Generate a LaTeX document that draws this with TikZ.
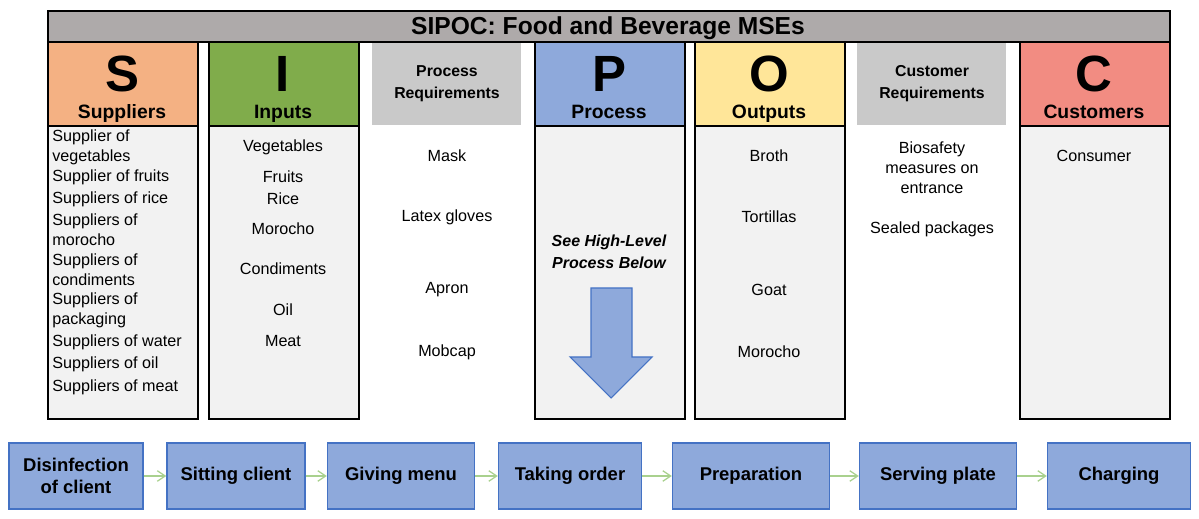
\documentclass[tikz,border=0pt]{standalone}
\usepackage{fontspec}
\setmainfont{Liberation Sans}
\usetikzlibrary{arrows.meta}

\definecolor{titlegray}{HTML}{AEAAAA}
\definecolor{supcol}{HTML}{F4B183}
\definecolor{inpcol}{HTML}{80AC4B}
\definecolor{proccol}{HTML}{8EA9DB}
\definecolor{outcol}{HTML}{FFE699}
\definecolor{custcol}{HTML}{F28C82}
\definecolor{reqgray}{HTML}{C9C9C9}
\definecolor{cellgray}{HTML}{F2F2F2}
\definecolor{stepedge}{HTML}{4472C4}
\definecolor{flowgreen}{HTML}{A9D18E}

\begin{document}
\begin{tikzpicture}[x=0.02cm,y=-0.02cm,
  frame/.style={draw=black,line width=1.2pt},
  hdrbox/.style={frame,anchor=north west,inner sep=0,minimum width=3cm,minimum height=1.68cm},
  cellbox/.style={frame,fill=cellgray,anchor=north west,inner sep=0,minimum width=3cm,minimum height=5.86cm},
  reqbox/.style={fill=reqgray,anchor=north west,inner sep=0,minimum width=2.98cm,minimum height=1.64cm},
  letter/.style={anchor=base,inner sep=0,font=\fontsize{29}{30}\selectfont\bfseries},
  hdrlabel/.style={anchor=base,inner sep=0,font=\fontsize{11}{12}\selectfont\bfseries},
  reqlabel/.style={align=center,inner sep=0,font=\fontsize{9}{12.5}\selectfont\bfseries},
  entry/.style={align=center,inner sep=0,font=\fontsize{9.2}{11.3}\selectfont},
  supentry/.style={entry,align=left,anchor=west},
  stepbox/.style={draw=stepedge,fill=proccol,line width=0.8pt,minimum height=1.32cm,
    inner sep=0,align=center,font=\fontsize{10.5}{12.5}\selectfont\bfseries},
  flow/.style={draw=flowgreen,line width=0.7pt,-{Straight Barb[length=4.5pt,width=6pt]}}]
  \useasboundingbox (0,0) rectangle (1199,519);

  % title bar
  \node[frame,fill=titlegray,anchor=north west,inner sep=0,minimum width=22.44cm,minimum height=0.62cm] (bar) at (47,10) {};
  \node[anchor=base,inner sep=0,font=\fontsize{14}{16}\selectfont\bfseries] (title) at (608,35) {SIPOC: Food and Beverage MSEs};

  % headers
  \node[hdrbox,fill=supcol] (hS) at (47,41) {};
  \node[hdrbox,fill=inpcol] (hI) at (208,41) {};
  \node[reqbox] (hPR) at (372,43) {};
  \node[hdrbox,fill=proccol] (hP) at (534,41) {};
  \node[hdrbox,fill=outcol] (hO) at (694,41) {};
  \node[reqbox] (hCR) at (857,43) {};
  \node[hdrbox,fill=custcol] (hC) at (1019,41) {};

  \node[letter] (lS) at (122,92) {S};
  \node[letter] (lI) at (283,92) {I};
  \node[letter] (lP) at (609,92) {P};
  \node[letter] (lO) at (769,92) {O};
  \node[letter] (lC) at (1094,92) {C};
  \node[hdrlabel] (tS) at (122,119) {Suppliers};
  \node[hdrlabel] (tI) at (283,119) {Inputs};
  \node[hdrlabel] (tP) at (609,119) {Process};
  \node[hdrlabel] (tO) at (769,119) {Outputs};
  \node[hdrlabel] (tC) at (1094,119) {Customers};
  \node[reqlabel] (tPR) at (447,84) {Process\\Requirements};
  \node[reqlabel] (tCR) at (932,84) {Customer\\Requirements};

  % column bodies
  \node[cellbox] (cS) at (47,125) {};
  \node[cellbox] (cI) at (208,125) {};
  \node[cellbox] (cP) at (534,125) {};
  \node[cellbox] (cO) at (694,125) {};
  \node[cellbox] (cC) at (1019,125) {};

  % suppliers
  \node[supentry] (s1) at (52,147) {Supplier of\\vegetables};
  \node[supentry] (s2) at (52,177) {Supplier of fruits};
  \node[supentry] (s3) at (52,199) {Suppliers of rice};
  \node[supentry] (s4) at (52,230) {Suppliers of\\morocho};
  \node[supentry] (s5) at (52,270) {Suppliers of\\condiments};
  \node[supentry] (s6) at (52,310) {Suppliers of\\packaging};
  \node[supentry] (s7) at (52,342) {Suppliers of water};
  \node[supentry] (s8) at (52,364) {Suppliers of oil};
  \node[supentry] (s9) at (52,387) {Suppliers of meat};

  % inputs
  \node[entry] (i1) at (283,147) {Vegetables};
  \node[entry] (i2) at (283,177) {Fruits};
  \node[entry] (i3) at (283,199) {Rice};
  \node[entry] (i4) at (283,229) {Morocho};
  \node[entry] (i5) at (283,269) {Condiments};
  \node[entry] (i6) at (283,310) {Oil};
  \node[entry] (i7) at (283,341) {Meat};

  % process requirements
  \node[entry] (r1) at (447,156) {Mask};
  \node[entry] (r2) at (447,217) {Latex gloves};
  \node[entry] (r3) at (447,290) {Apron};
  \node[entry] (r4) at (447,352) {Mobcap};

  % process
  \node[entry,font=\fontsize{9.1}{12.5}\selectfont\bfseries\itshape] (see) at (609,252) {See High-Level\\Process Below};
  \draw[draw=stepedge,fill=proccol,line width=0.6pt] (591,288) -- (632,288) -- (632,357) -- (652,357)
    -- (611,398) -- (570,357) -- (591,357) -- cycle;

  % outputs
  \node[entry] (o1) at (769,156) {Broth};
  \node[entry] (o2) at (769,217) {Tortillas};
  \node[entry] (o3) at (769,290) {Goat};
  \node[entry] (o4) at (769,352) {Morocho};

  % customer requirements
  \node[entry] (q1) at (932,168) {Biosafety\\measures on\\entrance};
  \node[entry] (q2) at (932,229) {Sealed packages};

  % customers
  \node[entry] (k1) at (1094,156) {Consumer};

  % high-level process
  \node[stepbox,minimum width=2.68cm] (disinfect) at (76,476) {Disinfection\\of client};
  \node[stepbox,minimum width=2.76cm] (sitting) at (236,476) {Sitting client};
  \node[stepbox,minimum width=2.94cm] (menu) at (401,476) {Giving menu};
  \node[stepbox,minimum width=2.86cm] (order) at (570,476) {Taking order};
  \node[stepbox,minimum width=3.14cm] (prep) at (751,476) {Preparation};
  \node[stepbox,minimum width=3.14cm] (serving) at (938,476) {Serving plate};
  \node[stepbox,minimum width=2.86cm] (charging) at (1119,476) {Charging};

  \draw[flow] (disinfect) -- (sitting);
  \draw[flow] (sitting) -- (menu);
  \draw[flow] (menu) -- (order);
  \draw[flow] (order) -- (prep);
  \draw[flow] (prep) -- (serving);
  \draw[flow] (serving) -- (charging);
\end{tikzpicture}
\end{document}
